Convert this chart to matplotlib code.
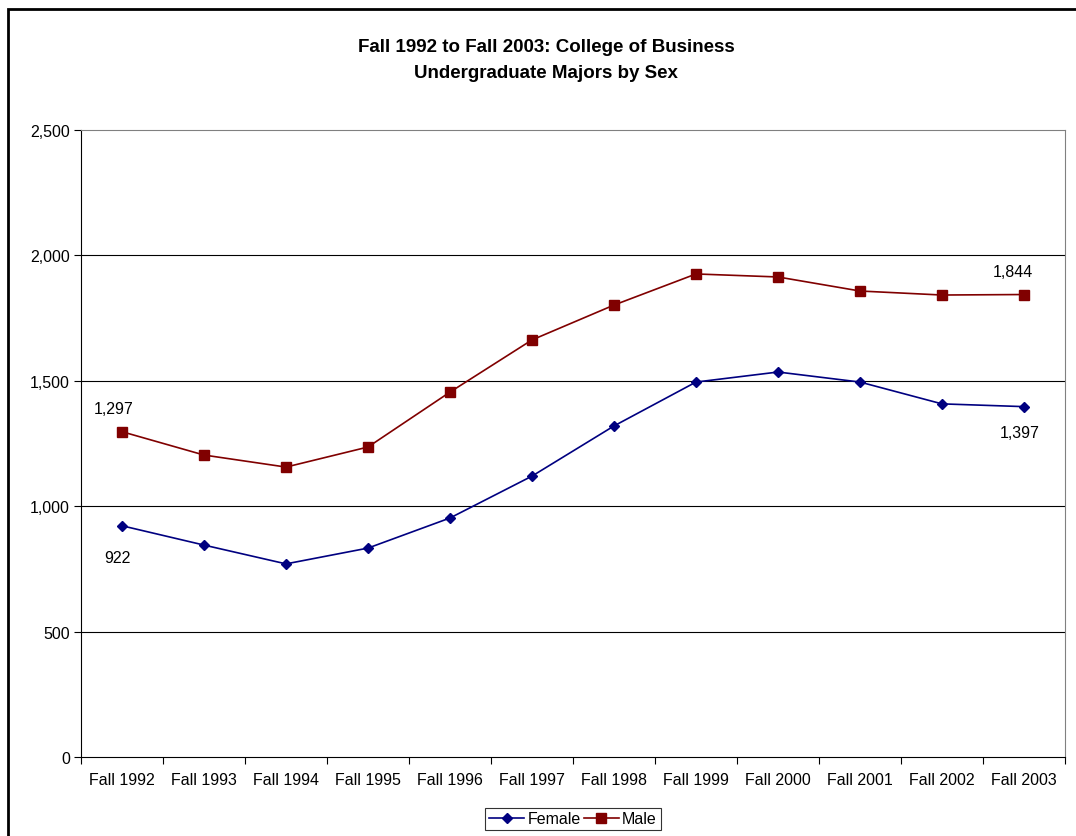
import matplotlib
matplotlib.use("Agg")
import matplotlib.pyplot as plt
from matplotlib.patches import Rectangle

categories = ["Fall 1992", "Fall 1993", "Fall 1994", "Fall 1995", "Fall 1996", "Fall 1997",
              "Fall 1998", "Fall 1999", "Fall 2000", "Fall 2001", "Fall 2002", "Fall 2003"]
female = [922, 845, 770, 833, 953, 1120, 1320, 1495, 1535, 1495, 1408, 1397]
male = [1297, 1204, 1156, 1236, 1455, 1663, 1802, 1926, 1914, 1858, 1842, 1844]
yticks = [0, 500, 1000, 1500, 2000, 2500]

plt.rcParams['font.family'] = ['Liberation Sans', 'DejaVu Sans']
FS = 11.5

fig = plt.figure(figsize=(10.76, 8.37), dpi=100)
ax = fig.add_axes([81/1076, 1-758/837, (1065-81)/1076, (758-131)/837])

x = list(range(len(categories)))
ax.plot(x, female, color='#000080', marker='D', markersize=5.5, linewidth=1.2, label='Female')
ax.plot(x, male, color='#800000', marker='s', markersize=6.5, linewidth=1.2, label='Male')

ax.set_xlim(-0.5, len(categories) - 0.5)
ax.set_ylim(0, 2500)
ax.set_yticks(yticks)
ax.set_yticklabels([f"{v:,}" for v in yticks], fontsize=FS)
ax.set_xticks([i - 0.5 for i in range(len(categories) + 1)])
ax.set_xticklabels([])
ax.set_xticks(x, minor=True)
ax.set_xticklabels(categories, minor=True, fontsize=FS)
ax.tick_params(axis='x', which='minor', length=0, pad=11)
ax.tick_params(axis='x', which='major', length=5, direction='out', color='black')
ax.tick_params(axis='y', length=5, direction='out', pad=3)

for v in yticks[1:-1]:
    ax.axhline(v, color='black', linewidth=0.8, zorder=0)

ax.spines['left'].set_color('black')
ax.spines['bottom'].set_color('black')
ax.spines['top'].set_color('#808080')
ax.spines['right'].set_color('#808080')

# data labels
ax.annotate(f"{male[0]:,}", (x[0], male[0]), xytext=(-6, 17), textcoords='offset points',
            ha='center', va='center', fontsize=FS)
ax.annotate(f"{female[0]:,}", (x[0], female[0]), xytext=(-3, -22.5), textcoords='offset points',
            ha='center', va='center', fontsize=FS)
ax.annotate(f"{male[-1]:,}", (x[-1], male[-1]), xytext=(-8, 16.5), textcoords='offset points',
            ha='center', va='center', fontsize=FS)
ax.annotate(f"{female[-1]:,}", (x[-1], female[-1]), xytext=(-3, -18.5), textcoords='offset points',
            ha='center', va='center', fontsize=FS)

fig.text(546/1076, 1-48/837, "Fall 1992 to Fall 2003: College of Business", ha='center', va='center',
         fontsize=13.5, fontweight='bold')
fig.text(546/1076, 1-73/837, "Undergraduate Majors by Sex", ha='center', va='center',
         fontsize=13.5, fontweight='bold')

leg = fig.legend(loc='center', bbox_to_anchor=(573/1076, 1-820/837), ncol=2, fontsize=FS,
                 frameon=True, fancybox=False, edgecolor='black', handlelength=2.2,
                 columnspacing=0.2, handletextpad=0.2, borderpad=0.25, borderaxespad=0)
leg.get_frame().set_linewidth(0.8)

fig.patches.append(Rectangle((8/1076, -0.1), 1.2, 1-10/837 + 0.1, transform=fig.transFigure,
                             fill=False, edgecolor='black', linewidth=2))

fig.savefig("out.png", dpi=100)
